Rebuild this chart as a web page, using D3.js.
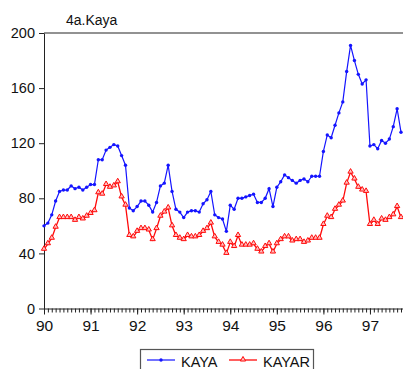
<!DOCTYPE html>
<html>
<head>
<meta charset="utf-8">
<script src="https://cdn.jsdelivr.net/npm/d3@7"></script>
<style>
  html, body { margin: 0; padding: 0; background: #fff; }
  svg { display: block; font-family: "Liberation Sans", Arial, sans-serif; }
</style>
</head>
<body>
<svg id="chart" width="403" height="369"></svg>
<script>
// ---- data (monthly, 1990M01 .. 1997M09) ----
const startYear = 1990;
const nObs = 93;
const periods = d3.range(nObs).map(i => `${startYear + Math.floor(i / 12)}M${String(i % 12 + 1).padStart(2, "0")}`);

const kaya = [
  60, 62, 68, 78, 85, 86, 86, 89, 87, 88, 86, 88,
  90, 90, 108, 108, 115, 117, 119, 118, 111, 104, 73, 71,
  74, 78, 78, 75, 70, 77, 89, 91, 104, 85, 72, 70,
  66, 70, 71, 71, 70, 76, 79, 85, 68, 66, 65, 56,
  75, 72, 80, 80, 81, 82, 83, 77, 77, 80, 87, 74,
  88, 92, 97, 95, 93, 91, 93, 94, 92, 96, 96, 96,
  114, 126, 124, 133, 142, 150, 172, 191, 180, 170, 163, 166,
  118, 119, 116, 122, 120, 123, 132, 145, 128
];
const kayar = [
  43, 47, 51, 59, 66, 66, 66, 66, 64, 66, 65, 67,
  69, 71, 84, 83, 90, 88, 89, 92, 81, 75, 53, 52,
  56, 58, 58, 57, 50, 58, 67, 70, 73, 60, 53, 51,
  50, 53, 52, 52, 53, 56, 58, 62, 52, 48, 46, 40,
  48, 45, 53, 46, 46, 46, 47, 43, 41, 45, 47, 41,
  47, 50, 52, 52, 49, 50, 50, 48, 49, 51, 51, 51,
  61, 67, 66, 72, 75, 78, 91, 99, 94, 88, 86, 85,
  61, 64, 61, 65, 64, 66, 68, 74, 66
];
const seriesNames = ["KAYA", "KAYAR"];
const yTicks = [0, 40, 80, 120, 160, 200];
const xTickLabels = ["90", "91", "92", "93", "94", "95", "96", "97"];
const title = "4a.Kaya";

// ---- layout ----
const svg = d3.select("#chart");
const mLeft = 44, mRight = 401, mTop = 33, mBottom = 308.5;

const x = d3.scaleLinear().domain([0, nObs - 1]).range([mLeft, mRight]);
const y = d3.scaleLinear().domain([0, 200]).range([mBottom, mTop]);

// top frame line
svg.append("line")
  .attr("x1", mLeft).attr("x2", 403).attr("y1", mTop).attr("y2", mTop)
  .attr("stroke", "#6e6e6e").attr("stroke-width", 1.5);

// y axis
const yAxis = d3.axisLeft(y).tickValues(yTicks).tickSize(5).tickSizeOuter(0).tickPadding(4);
const gy = svg.append("g").attr("transform", `translate(${mLeft},0)`).call(yAxis);
gy.select(".domain").attr("stroke", "#222");
gy.selectAll(".tick line").attr("stroke", "#222");
gy.selectAll(".tick text").attr("font-size", 14.5).attr("fill", "#111")
  .attr("font-family", "Liberation Sans, Arial, sans-serif");

// x axis: minor ticks (monthly) and major ticks (years)
const minorVals = d3.range(0, 96);
const xMinor = d3.axisBottom(x).tickValues(minorVals).tickSize(4).tickFormat("").tickSizeOuter(0);
const gxm = svg.append("g").attr("transform", `translate(0,${mBottom})`).call(xMinor);
gxm.select(".domain").attr("d", `M${mLeft},0.5H403`).attr("stroke", "#222");
gxm.selectAll(".tick line").attr("stroke", "#222");

const majorVals = xTickLabels.map((d, i) => i * 12);
const xMajor = d3.axisBottom(x).tickValues(majorVals).tickSize(6)
  .tickFormat((d, i) => xTickLabels[i]).tickSizeOuter(0).tickPadding(5);
const gx = svg.append("g").attr("transform", `translate(0,${mBottom})`).call(xMajor);
gx.select(".domain").remove();
gx.selectAll(".tick line").attr("stroke", "#222");
gx.selectAll(".tick text").attr("font-size", 15.5).attr("fill", "#111")
  .attr("font-family", "Liberation Sans, Arial, sans-serif");

// title
svg.append("text").attr("x", 66).attr("y", 25).attr("font-size", 14).attr("fill", "#111").text(title);

// lines
const blue = "#1414ff", red = "#ff0a0a";
const line = d3.line().x((d, i) => x(i)).y(d => y(d));

svg.append("path").datum(kaya).attr("d", line)
  .attr("fill", "none").attr("stroke", blue).attr("stroke-width", 1.2);
svg.append("g").selectAll("circle").data(kaya).join("circle")
  .attr("cx", (d, i) => x(i)).attr("cy", d => y(d)).attr("r", 1.7).attr("fill", blue);

svg.append("path").datum(kayar).attr("d", line)
  .attr("fill", "none").attr("stroke", red).attr("stroke-width", 1.3);
const tri = d3.symbol().type(d3.symbolTriangle).size(12);
svg.append("g").selectAll("path").data(kayar).join("path")
  .attr("d", tri)
  .attr("transform", (d, i) => `translate(${x(i)},${y(d) - 0.5})`)
  .attr("fill", "#ffc0c0").attr("stroke", red).attr("stroke-width", 1);

// legend
const lg = svg.append("g");
lg.append("rect").attr("x", 140.5).attr("y", 349.5).attr("width", 173).attr("height", 30)
  .attr("fill", "#fff").attr("stroke", "#555").attr("stroke-width", 1.2);
lg.append("line").attr("x1", 147).attr("x2", 175).attr("y1", 360).attr("y2", 360)
  .attr("stroke", blue).attr("stroke-width", 1.2);
lg.append("circle").attr("cx", 161).attr("cy", 360).attr("r", 1.7).attr("fill", blue);
lg.append("text").attr("x", 181).attr("y", 367).attr("font-size", 14.5).attr("fill", "#111").text(seriesNames[0]);
lg.append("line").attr("x1", 229).attr("x2", 257).attr("y1", 360).attr("y2", 360)
  .attr("stroke", red).attr("stroke-width", 1.3);
lg.append("path").attr("d", tri).attr("transform", "translate(243,359.5)")
  .attr("fill", "#ffc0c0").attr("stroke", red).attr("stroke-width", 1);
lg.append("text").attr("x", 263).attr("y", 367).attr("font-size", 14.5).attr("fill", "#111").text(seriesNames[1]);
</script>
</body>
</html>
